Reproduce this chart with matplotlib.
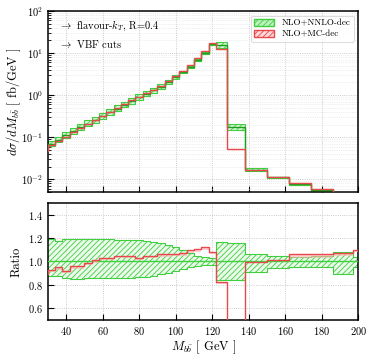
import matplotlib
matplotlib.use('Agg')
import matplotlib.pyplot as plt
import numpy as np
from matplotlib.patches import Patch

plt.rcParams['font.family'] = 'serif'
plt.rcParams['font.serif'] = ['cmr10', 'DejaVu Serif']
plt.rcParams['mathtext.fontset'] = 'cm'
plt.rcParams['axes.formatter.use_mathtext'] = True
plt.rcParams['axes.unicode_minus'] = False
plt.rcParams['hatch.linewidth'] = 0.6

# bin edges in M_bb (GeV)
edges = [26, 30, 34, 38, 42, 46, 50, 54, 58, 62, 66, 70, 74, 78, 82, 86, 90,
         94, 98, 102, 106, 110, 114, 118, 122, 128, 138, 150, 162, 174, 186,
         197, 210]

# NLO+NNLO-dec central (fb/GeV)
nnlo = [0.052, 0.069, 0.087, 0.11, 0.138, 0.17, 0.21, 0.257, 0.316, 0.39,
        0.48, 0.59, 0.72, 0.89, 1.07, 1.29, 1.58, 2.04, 2.7, 3.5, 4.7, 6.9,
        10.0, 16.4, 15.5, 0.178, 0.017, 0.0110, 0.0077, 0.0055, 0.0040, 0.0030]

# NLO+NNLO-dec scale band, as ratio to central
nnlo_up = [1.20, 1.195, 1.175, 1.19, 1.19, 1.19, 1.19, 1.195, 1.19, 1.19,
           1.185, 1.185, 1.18, 1.18, 1.175, 1.165, 1.155, 1.14, 1.12, 1.10,
           1.075, 1.05, 1.035, 1.03, 1.165, 1.155, 1.068, 1.045, 1.04, 1.045,
           1.082, 1.04]
nnlo_dn = [0.88, 0.875, 0.875, 0.86, 0.85, 0.85, 0.855, 0.86, 0.86, 0.86,
           0.86, 0.862, 0.862, 0.865, 0.87, 0.88, 0.89, 0.90, 0.915, 0.935,
           0.955, 0.965, 0.97, 0.97, 0.84, 0.845, 0.906, 0.946, 0.95, 0.95,
           0.89, 0.95]

# NLO+MC-dec, ratio to NLO+NNLO-dec central
mc_ratio = [0.89, 0.93, 0.95, 0.92, 0.96, 0.96, 0.99, 1.01, 1.03, 1.03,
            1.05, 1.05, 1.05, 1.03, 1.05, 1.05, 1.06, 1.06, 1.065, 1.07,
            1.095, 1.11, 1.125, 1.08, 0.826, 0.29, 0.997, 1.01, 1.065, 1.065,
            1.075, 1.10]
mc_lo = [0.87, 0.91, 0.93, 0.90, 0.94, 0.94, 0.97, 0.99, 1.01, 1.01,
         1.03, 1.03, 1.03, 1.01, 1.03, 1.03, 1.04, 1.04, 1.045, 1.05,
         1.07, 1.08, 1.095, 1.06, 0.81, 0.28, 0.99, 1.0, 1.03, 1.03,
         1.05, 1.08]

GREEN = '#3fcf3f'
GREEN_DARK = '#1f9e1f'
RED = '#e8474c'

e = np.array(edges, dtype=float)
c = np.array(nnlo)
up = c * np.array(nnlo_up)
dn = c * np.array(nnlo_dn)
mc = c * np.array(mc_ratio)
mclo = c * np.array(mc_lo)


def band(ax, lo, hi, face, edge, hatch, lw=0.8, z=2):
    ax.fill_between(e, np.append(lo, lo[-1]), np.append(hi, hi[-1]), step='post',
                    facecolor=face, edgecolor=edge, hatch=hatch, linewidth=0, zorder=z)
    ax.stairs(hi, e, color=edge, linewidth=lw, zorder=z + 0.1)
    ax.stairs(lo, e, color=edge, linewidth=lw, zorder=z + 0.1)


fig = plt.figure(figsize=(3.73, 3.56), dpi=100)
ax1 = fig.add_axes([0.128, 0.461, 0.833, 0.508])
ax2 = fig.add_axes([0.128, 0.101, 0.833, 0.329])

# top panel
band(ax1, dn, up, (0.75, 0.95, 0.75, 0.6), GREEN, '//////')
ax1.stairs(c, e, color=GREEN_DARK, linewidth=1.0, zorder=3)
ax1.fill_between(e, np.append(mclo, mclo[-1]), np.append(mc, mc[-1]), step='post',
                 facecolor=(1, 0.7, 0.7, 0.6), linewidth=0, zorder=3)
ax1.stairs(mc, e, color=RED, linewidth=1.0, zorder=4)
ax1.set_yscale('log')
ax1.set_xlim(30, 200)
ax1.set_ylim(5e-3, 1e2)
ax1.set_ylabel(r'$d\sigma/dM_{b\bar{b}}$ [ fb/GeV ]', fontsize=9)
ax1.yaxis.set_label_coords(-0.08, 0.5)
ax1.set_xticks(range(40, 201, 20))
ax1.tick_params(labelbottom=False)
ax1.text(0.035, 0.92, r'$\rightarrow$ flavour-$k_T$, R=0.4', transform=ax1.transAxes,
         fontsize=7.5, va='center')
ax1.text(0.035, 0.82, r'$\rightarrow$ VBF cuts', transform=ax1.transAxes,
         fontsize=7.5, va='center')

handles = [Patch(facecolor=(0.75, 0.95, 0.75), edgecolor=GREEN, hatch='//////', label='NLO+NNLO-dec'),
           Patch(facecolor=(1, 0.85, 0.85), edgecolor=RED, hatch='//////', label='NLO+MC-dec')]
leg = ax1.legend(handles=handles, loc='upper right', fontsize=6.5, frameon=True,
                 handlelength=2.2, borderpad=0.4, labelspacing=0.3)
leg.get_frame().set_linewidth(0.6)

# ratio panel
band(ax2, np.array(nnlo_dn), np.array(nnlo_up), (0.85, 0.97, 0.85, 0.5), GREEN, '//////')
ax2.axhline(1.0, color=GREEN, linewidth=1.0, zorder=3)
ax2.fill_between(e, np.append(mc_lo, mc_lo[-1]), np.append(mc_ratio, mc_ratio[-1]), step='post',
                 facecolor=(1, 0.7, 0.7, 0.6), linewidth=0, zorder=3)
ax2.stairs(mc_ratio, e, color=RED, linewidth=1.0, zorder=4)
ax2.set_xlim(30, 200)
ax2.set_ylim(0.5, 1.5)
ax2.set_yticks([0.6, 0.8, 1.0, 1.2, 1.4])
ax2.set_xticks(range(40, 201, 20))
ax2.set_ylabel('Ratio', fontsize=9)
ax2.yaxis.set_label_coords(-0.08, 0.5)
ax2.set_xlabel(r'$M_{b\bar{b}}$ [ GeV ]', fontsize=9, labelpad=1)

for ax in (ax1, ax2):
    ax.grid(True, which='major', linestyle=':', color='#bbbbbb', linewidth=0.6)
    ax.tick_params(which='both', direction='in', top=False, right=False, labelsize=7.5)
    ax.tick_params(which='major', length=4)
    ax.tick_params(which='minor', length=2)
    for s in ax.spines.values():
        s.set_linewidth(1.1)
ax1.grid(True, which='minor', axis='y', linestyle=':', color='#dddddd', linewidth=0.5)

plt.savefig('out.png', dpi=100)
